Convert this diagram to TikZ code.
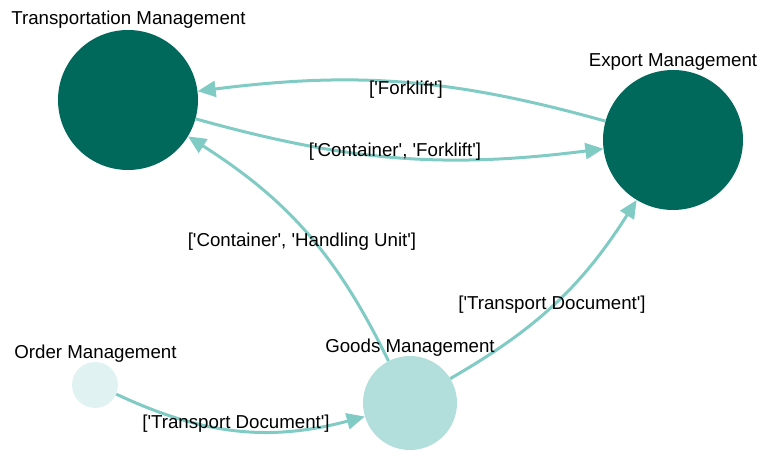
\documentclass[tikz,border=0pt]{standalone}
\usepackage{fontspec}
\setmainfont{Liberation Sans}[Ligatures=TeXOff]
\usetikzlibrary{arrows.meta}
\definecolor{darkteal}{HTML}{00695C}
\definecolor{midteal}{HTML}{B2DFDB}
\definecolor{paleteal}{HTML}{E0F2F1}
\definecolor{edgeteal}{HTML}{80CBC4}
\tikzset{
  vert/.style={circle, inner sep=0pt, draw=none},
  lbl/.style={font=\fontsize{18.7}{22}\selectfont, text=black, inner sep=0pt},
  conn/.style={draw=edgeteal, line width=3pt, -{Triangle[length=18pt,width=16pt]}}
}
\begin{document}
\begin{tikzpicture}[x=1pt,y=1pt]
\useasboundingbox (0,0) rectangle (781,463);
\node[vert, fill=darkteal, minimum size=140pt] (tm) at (128,363) {};
\node[vert, fill=darkteal, minimum size=140pt] (em) at (673,323) {};
\node[vert, fill=paleteal, minimum size=46pt] (om) at (95,78) {};
\node[vert, fill=midteal, minimum size=94pt] (gm) at (410,60) {};

\draw[conn] (em) to[bend right=11.4] (tm);
\draw[conn] (tm) to[bend right=11.4] (em);
\draw[conn] (gm) to[bend right=15.8] (tm);
\draw[conn] (gm) to[bend right=13.8] (em);
\draw[conn] (om) to[bend right=20] (gm);

\node[lbl] (tml) at (128.5,443) {Transportation Management};
\node[lbl] (eml) at (673,401) {Export Management};
\node[lbl] (oml) at (95.5,109) {Order Management};
\node[lbl] (gml) at (410,115) {Goods Management};

\node[lbl] (l1) at (406,373) {['Forklift']};
\node[lbl] (l2) at (395,311) {['Container', 'Forklift']};
\node[lbl] (l3) at (302,221) {['Container', 'Handling Unit']};
\node[lbl] (l4) at (552,158) {['Transport Document']};
\node[lbl] (l5) at (236,39) {['Transport Document']};
\end{tikzpicture}
\end{document}
